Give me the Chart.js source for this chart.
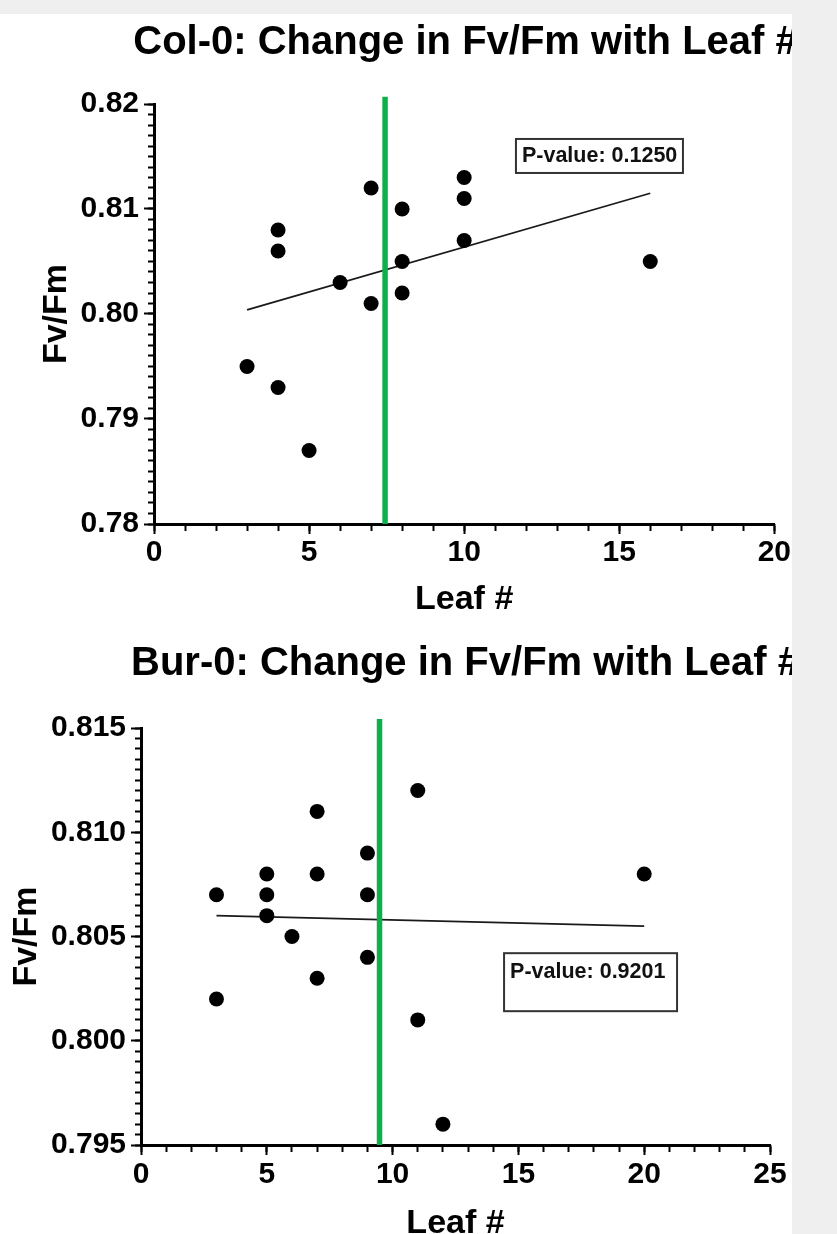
<!DOCTYPE html>
<html><head><meta charset="utf-8">
<script src="https://cdn.jsdelivr.net/npm/chart.js@4.4.0/dist/chart.umd.min.js"></script>
<style>
html,body{margin:0;padding:0;background:#efefef;overflow:hidden;width:837px;height:1234px}
#panel{position:absolute;left:0;top:14px;width:792px;height:1220px;background:#fff}
.wrap{position:absolute;left:0;width:792px;overflow:hidden}
canvas{display:block}
</style></head><body>
<div id="panel"></div>
<div class="wrap" style="top:14px;height:616px"><canvas id="c1" width="792" height="616"></canvas></div>
<div class="wrap" style="top:630px;height:604px"><canvas id="c2" width="792" height="624"></canvas></div>
<script>
// ---------- Col-0 ----------
const colTitle = 'Col-0: Change in Fv/Fm with Leaf #';
const colLeaf  = [3, 4, 4, 4, 5, 6, 7, 7, 8, 8, 8, 10, 10, 10, 16];
const colFvFm  = [0.795, 0.808, 0.806, 0.793, 0.787, 0.803, 0.812, 0.801, 0.810, 0.805, 0.802, 0.813, 0.811, 0.807, 0.805];
const colFitX  = [3, 16];
const colFitY  = [0.8004, 0.8115];
const colMarkerX = 7.45;
const colXTicks = [0, 5, 10, 15, 20];
const colXTickLabels = ['0', '5', '10', '15', '20'];
const colYTicks = [0.78, 0.79, 0.80, 0.81, 0.82];
const colYTickLabels = ['0.78', '0.79', '0.80', '0.81', '0.82'];
const colPValue = 'P-value: 0.1250';

// ---------- Bur-0 ----------
const burTitle = 'Bur-0: Change in Fv/Fm with Leaf #';
const burLeaf  = [3, 3, 5, 5, 5, 6, 7, 7, 7, 9, 9, 9, 11, 11, 12, 20];
const burFvFm  = [0.807, 0.802, 0.808, 0.807, 0.806, 0.805, 0.811, 0.808, 0.803, 0.809, 0.807, 0.804, 0.812, 0.801, 0.796, 0.808];
const burFitX  = [3, 20];
const burFitY  = [0.8060, 0.8055];
const burMarkerX = 9.48;
const burXTicks = [0, 5, 10, 15, 20, 25];
const burXTickLabels = ['0', '5', '10', '15', '20', '25'];
const burYTicks = [0.795, 0.800, 0.805, 0.810, 0.815];
const burYTickLabels = ['0.795', '0.800', '0.805', '0.810', '0.815'];
const burPValue = 'P-value: 0.9201';

const FONT = "'Liberation Sans', Arial, Helvetica, sans-serif";
Chart.defaults.font.family = FONT;
Chart.defaults.font.weight = 'bold';
Chart.defaults.color = '#000';

const headline = {
  id: 'headline',
  afterDraw(chart, args, o) {
    const ctx = chart.ctx;
    ctx.save();
    ctx.font = `bold ${o.size}px ${FONT}`;
    ctx.fillStyle = '#000';
    ctx.textAlign = 'center';
    ctx.textBaseline = 'middle';
    ctx.fillText(o.text, o.x, o.y);
    ctx.restore();
  }
};
const pvalue = {
  id: 'pvalue',
  afterDatasetsDraw(chart, args, o) {
    const ctx = chart.ctx;
    const left = chart.scales.x.getPixelForValue(o.x);
    const top = chart.scales.y.getPixelForValue(o.y);
    ctx.save();
    ctx.fillStyle = '#fff';
    ctx.fillRect(left, top, o.w, o.h);
    ctx.strokeStyle = '#333';
    ctx.lineWidth = 2;
    ctx.strokeRect(left, top, o.w, o.h);
    ctx.font = `bold ${o.size}px ${FONT}`;
    ctx.fillStyle = '#111';
    ctx.textAlign = 'left';
    ctx.textBaseline = 'middle';
    ctx.fillText(o.text, left + o.padX, top + o.textY);
    ctx.restore();
  }
};

function build(id, c) {
  const pts = c.leaf.map((x, i) => ({x, y: c.fv[i]}));
  const fit = c.fitX.map((x, i) => ({x, y: c.fitY[i]}));
  const marker = [{x: c.markerX, y: c.yMin}, {x: c.markerX, y: c.markerTop}];
  new Chart(document.getElementById(id), {
    type: 'scatter',
    data: {
      datasets: [
        {data: pts, backgroundColor: '#000', borderWidth: 0, pointRadius: 7.5, pointHoverRadius: 7.5, order: 0},
        {data: marker, showLine: true, borderColor: '#0db14b', borderWidth: 5.5, pointRadius: 0, clip: false, order: 1},
        {data: fit, showLine: true, borderColor: '#1a1a1a', borderWidth: 1.8, pointRadius: 0, order: 2}
      ]
    },
    plugins: [headline, pvalue],
    options: {
      responsive: false, animation: false, events: [],
      layout: {padding: {top: c.areaTop, left: 0, right: c.padRight, bottom: 0}},
      plugins: {
        legend: {display: false}, tooltip: {enabled: false},
        headline: {text: c.title, x: 465.5, y: c.titleY, size: 40},
        pvalue: c.pbox
      },
      scales: {
        xMinor: {
          type: 'linear', position: 'bottom', weight: -1, min: c.xMin, max: c.xMax,
          ticks: {display: false, stepSize: 1},
          grid: {drawOnChartArea: false, tickLength: 7, tickWidth: 2, tickColor: '#000'},
          border: {display: false},
          afterFit(s) { s.height = 0; }
        },
        x: {
          type: 'linear', position: 'bottom', weight: 0, min: c.xMin, max: c.xMax,
          afterBuildTicks(s) { s.ticks = c.xTicks.map(v => ({value: v})); },
          ticks: {callback: (v, i) => c.xTickLabels[i], padding: c.xTickPad, font: {size: 30, weight: 'bold'}, color: '#000', maxRotation: 0, autoSkip: false},
          grid: {drawOnChartArea: false, tickLength: 10, tickWidth: 2, tickColor: '#000'},
          border: {display: true, width: 3, color: '#000'},
          title: {display: true, text: 'Leaf #', font: {size: 34, weight: 'bold'}, color: '#000', padding: {top: 0, bottom: 10}},
          afterFit(s) { s.height = c.xAxisH; }
        },
        yMinor: {
          type: 'linear', position: 'left', weight: -1, min: c.yMin, max: c.yMax,
          ticks: {display: false, stepSize: c.yMinorStep, maxTicksLimit: 100},
          grid: {drawOnChartArea: false, tickLength: 6, tickWidth: 2, tickColor: '#000'},
          border: {display: false},
          afterFit(s) { s.width = 0; }
        },
        y: {
          type: 'linear', position: 'left', weight: 0, min: c.yMin, max: c.yMax,
          afterBuildTicks(s) { s.ticks = c.yTicks.map(v => ({value: v})); },
          ticks: {callback: (v, i) => c.yTickLabels[i], padding: 5, font: {size: 30, weight: 'bold'}, color: '#000', autoSkip: false},
          grid: {drawOnChartArea: false, tickLength: 10, tickWidth: 2, tickColor: '#000'},
          border: {display: true, width: 3, color: '#000'},
          title: {display: true, text: 'Fv/Fm', font: {size: 34, weight: 'bold'}, color: '#000', padding: {top: c.yTitlePad, bottom: 0}},
          afterFit(s) { s.width = c.areaLeft; }
        }
      }
    }
  });
}

build('c1', {
  title: colTitle, titleY: 28.5, leaf: colLeaf, fv: colFvFm, fitX: colFitX, fitY: colFitY,
  markerX: colMarkerX, markerTop: 0.8207,
  xMin: 0, xMax: 20, yMin: 0.78, yMax: 0.82, yMinorStep: 0.001,
  xTicks: colXTicks, xTickLabels: colXTickLabels, yTicks: colYTicks, yTickLabels: colYTickLabels,
  areaTop: 90, areaLeft: 154, padRight: 16, xAxisH: 106, xTickPad: 1, yTitlePad: 36,
  pbox: {text: colPValue, x: 11.67, y: 0.81667, w: 167, h: 34, size: 21.5, padX: 6, textY: 17}
});
build('c2', {
  title: burTitle, titleY: 33.5, leaf: burLeaf, fv: burFvFm, fitX: burFitX, fitY: burFitY,
  markerX: burMarkerX, markerTop: 0.81543,
  xMin: 0, xMax: 25, yMin: 0.795, yMax: 0.815, yMinorStep: 0.0005,
  xTicks: burXTicks, xTickLabels: burXTickLabels, yTicks: burYTicks, yTickLabels: burYTickLabels,
  areaTop: 98, areaLeft: 141, padRight: 22, xAxisH: 109, xTickPad: 2, yTitlePad: 6,
  pbox: {text: burPValue, x: 14.43, y: 0.8042, w: 173, h: 58, size: 21.5, padX: 6, textY: 19}
});
</script>
</body></html>
